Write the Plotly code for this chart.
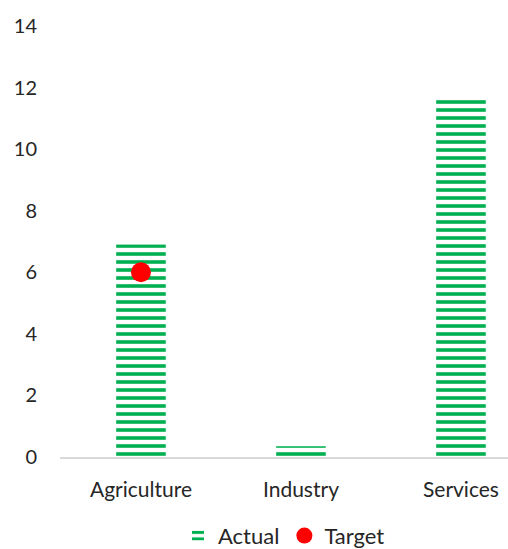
import plotly.graph_objects as go

categories = ["Agriculture", "Industry", "Services"]
actual = [6.9, 0.35, 11.6]
target_categories = ["Agriculture"]
target = [6.0]
y_ticks = [0, 2, 4, 6, 8, 10, 12, 14]

GREEN = "#00B050"
RED = "#FF0000"
TEXT = "#262626"

fig = go.Figure()
fig.add_trace(go.Bar(
    x=categories, y=actual, name="Actual", width=0.31,
    marker=dict(
        color="white",
        line=dict(width=0),
        pattern=dict(shape="-", fgcolor=GREEN, bgcolor="white",
                     size=8, solidity=0.45, fillmode="replace"),
    ),
))
fig.add_trace(go.Scatter(
    x=target_categories, y=target, name="Target", mode="markers",
    marker=dict(color=RED, size=20, line=dict(width=0)),
))

fig.update_layout(
    width=508, height=549,
    margin=dict(l=60, r=0, t=26, b=92, autoexpand=False),
    paper_bgcolor="white", plot_bgcolor="white",
    font=dict(family="Lato, 'Open Sans', sans-serif", size=20, color=TEXT),
    showlegend=True,
    legend=dict(orientation="h", x=0.5, xanchor="center",
                yref="container", y=0.024, yanchor="middle",
                font=dict(size=22), itemwidth=30),
    xaxis=dict(range=[-0.506, 2.294], showgrid=False, showline=True, automargin=False,
               linecolor="#D9D9D9", linewidth=1.5, ticks="", ticklabelstandoff=13,
               tickfont=dict(size=21)),
    yaxis=dict(range=[0, 14], tickvals=y_ticks, showgrid=False, zeroline=False,
               showline=False, ticks="", ticklabelstandoff=22, automargin=False,
               tickfont=dict(size=20)),
)

fig.write_html("out.html")
